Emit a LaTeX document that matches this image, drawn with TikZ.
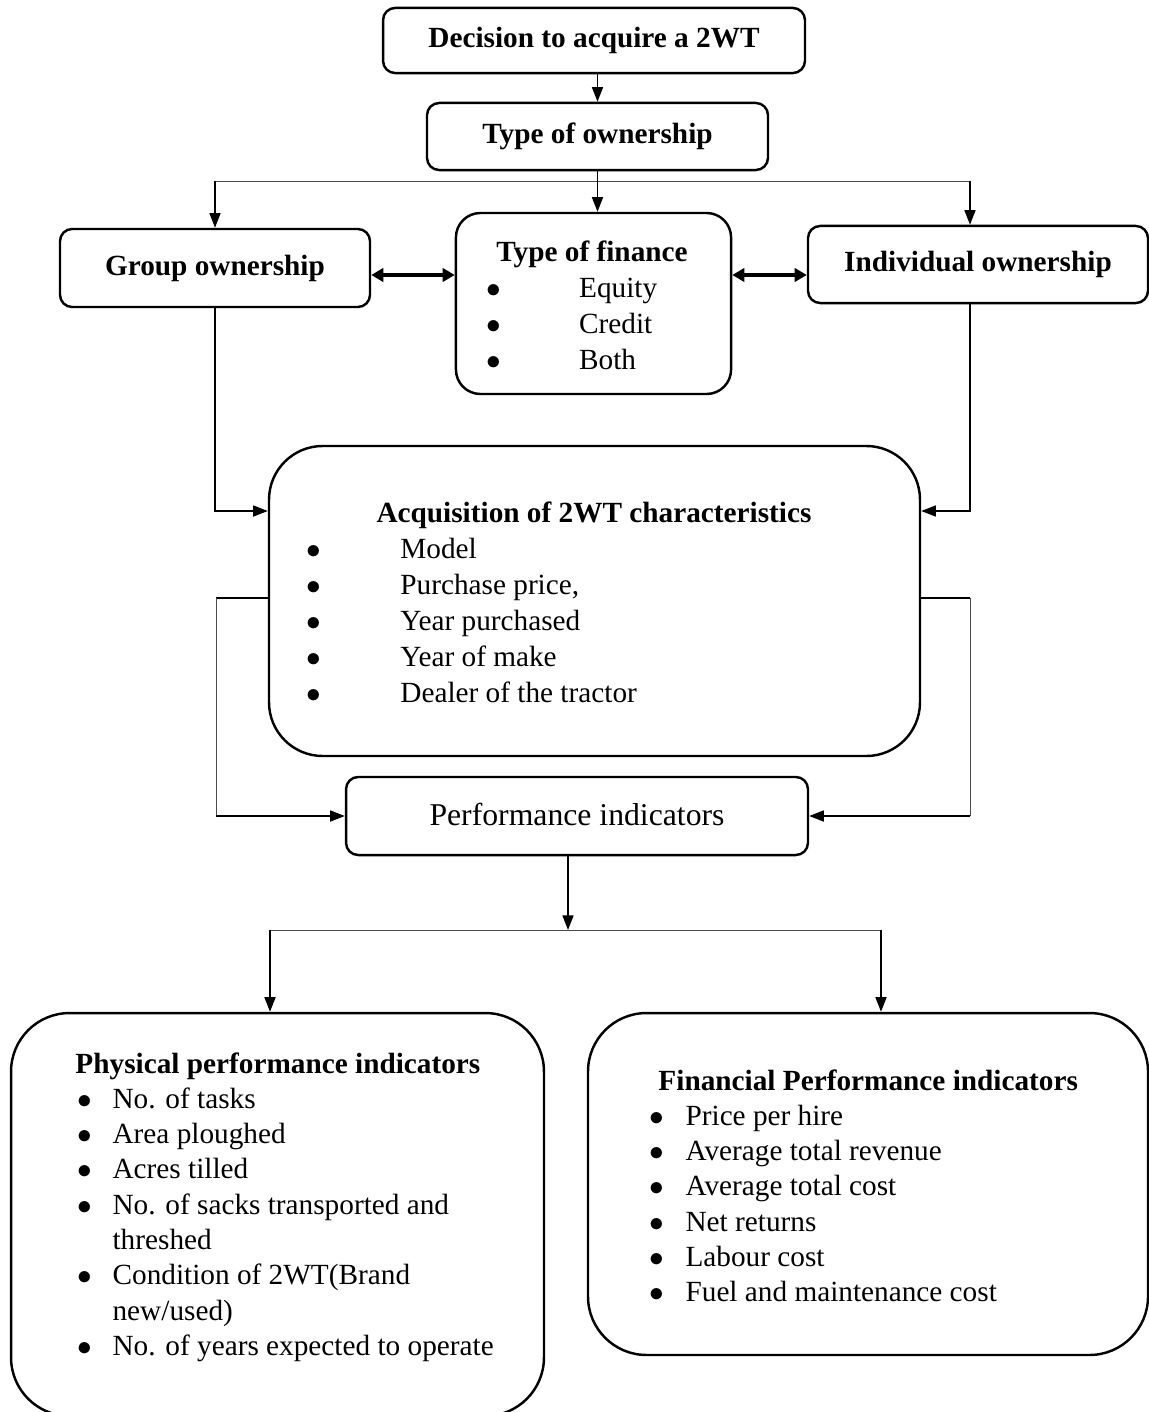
\documentclass[tikz,border=0pt]{standalone}
\usepackage{fontspec}
\setmainfont{Liberation Serif}
\usetikzlibrary{arrows.meta, positioning, calc}

\begin{document}
\begin{tikzpicture}[
    x=0.41pt, y=-0.41pt,
    font=\fontsize{12}{14.5}\selectfont,
    box/.style={
        rectangle, draw=black, line width=1pt,
        rounded corners=5pt, fill=white,
        align=center, inner sep=0pt
    },
    bigbox/.style={box, rounded corners=24pt},
    heading/.style={font=\fontsize{12}{14.5}\selectfont\bfseries, inner sep=0pt},
    itemlist/.style={inner sep=0pt, anchor=base west},
    flow/.style={draw=black, line width=0.7pt, -{Triangle[length=6pt,width=4.5pt]}},
    twoway/.style={draw=black, line width=1.3pt,
        {Triangle[length=5pt,width=5.5pt]}-{Triangle[length=5pt,width=5.5pt]}},
    link/.style={draw=black, line width=0.9pt},
    feed/.style={draw=black!70, line width=0.4pt}
]
\path[use as bounding box] (0,0) rectangle (1149,1412);
\clip (0,0) rectangle (1149,1412);

% ---------------------------------------------------------------------
% 1. TOP: DECISION AND OWNERSHIP
% ---------------------------------------------------------------------
\node[box, minimum width=173pt, minimum height=26.7pt, font=\fontsize{12}{14.5}\selectfont\bfseries] (decision) at (594,40.5) {Decision to acquire a 2WT};
\node[box, minimum width=139.8pt, minimum height=27.5pt, font=\fontsize{12}{14.5}\selectfont\bfseries] (own) at (597.5,136.5) {Type of ownership};

\draw[flow] (decision.south -| own.north) -- (own.north);

% ---------------------------------------------------------------------
% 2. OWNERSHIP TYPES AND FINANCE
% ---------------------------------------------------------------------
\node[box, minimum width=127.1pt, minimum height=32pt, font=\fontsize{12}{14.5}\selectfont\bfseries] (group) at (215,268) {Group ownership};
\node[box, minimum width=139.4pt, minimum height=31.6pt, font=\fontsize{12}{14.5}\selectfont\bfseries] (indiv) at (978,264.5) {Individual ownership};
\node[box, rounded corners=10pt, minimum width=112.8pt, minimum height=74.2pt] (finance) at (593.5,303.5) {};

\node[heading, anchor=base] (financetitle) at (592,262) {Type of finance};
\node[itemlist, font=\fontsize{12}{14.8}\selectfont] (financelist) at (486,297) {\begin{tabular}[t]{@{}p{38pt}@{}l@{}}
$\bullet$ & Equity\\
$\bullet$ & Credit\\
$\bullet$ & Both
\end{tabular}};

\coordinate (splitL) at (215,181);
\coordinate (splitR) at (970,181);
\draw[feed] (splitL) -- (splitR);
\draw[flow] (own.south) -- (own.south |- finance.north);
\draw[flow] (splitL) -- (splitL |- group.north);
\draw[flow] (splitR) -- (splitR |- indiv.north);

\coordinate (dbl) at (0,275);
\draw[twoway] (group.east |- dbl) -- (finance.west |- dbl);
\draw[twoway] (finance.east |- dbl) -- (indiv.west |- dbl);

% ---------------------------------------------------------------------
% 3. MIDDLE: ACQUISITION CHARACTERISTICS
% ---------------------------------------------------------------------
\node[box, rounded corners=22pt, minimum width=266.9pt, minimum height=127.1pt] (acq) at (594.5,601) {};

\node[heading, anchor=base] (acqtitle) at (594,522) {Acquisition of 2WT characteristics};
\node[itemlist, font=\fontsize{12}{14.8}\selectfont] (acqlist) at (306,558) {\begin{tabular}[t]{@{}p{38.5pt}@{}l@{}}
$\bullet$ & Model\\
$\bullet$ & Purchase price,\\
$\bullet$ & Year purchased\\
$\bullet$ & Year of make\\
$\bullet$ & Dealer of the tractor
\end{tabular}};

\coordinate (inL) at (215,511);
\coordinate (inR) at (970,511);
\draw[flow] (group.south) -- (inL) -- (inL -| acq.west);
\draw[flow] (inR |- indiv.south) -- (inR) -- (inR -| acq.east);

% ---------------------------------------------------------------------
% 4. PERFORMANCE INDICATORS
% ---------------------------------------------------------------------
\node[box, minimum width=189.4pt, minimum height=32pt, font=\fontsize{13}{15}\selectfont] (perf) at (577,816) {Performance indicators\rule[-1.5pt]{0pt}{0pt}};

\coordinate (outL) at (216,598);
\coordinate (outR) at (970,598);
\draw[link] (acq.west |- outL) -- (outL);
\draw[feed] (outL) -- (outL |- perf.west);
\draw[flow] (outL |- perf.west) -- (perf.west);
\draw[link] (acq.east |- outR) -- (outR);
\draw[feed] (outR) -- (outR |- perf.east);
\draw[flow] (outR |- perf.east) -- (perf.east);

% ---------------------------------------------------------------------
% 5. BOTTOM: PHYSICAL AND FINANCIAL INDICATORS
% ---------------------------------------------------------------------
\node[bigbox, minimum width=218.5pt, minimum height=165.2pt] (phys) at (277.5,1214.5) {};
\node[bigbox, minimum width=229.6pt, minimum height=140.2pt] (fin) at (868,1184) {};

\node[heading, anchor=base west] (phystitle) at (75,1073) {Physical performance indicators};
\node[itemlist] (physlist) at (77,1108) {\begin{tabular}[t]{@{}p{14.4pt}@{}l@{}}
$\bullet$ & No. of tasks\\
$\bullet$ & Area ploughed\\
$\bullet$ & Acres tilled\\
$\bullet$ & No. of sacks transported and\\
          & threshed\\
$\bullet$ & Condition of 2WT(Brand\\
          & new/used)\\
$\bullet$ & No. of years expected to operate
\end{tabular}};

\node[heading, anchor=base west] (fintitle) at (658,1090) {Financial Performance indicators};
\node[itemlist] (finlist) at (649,1125) {\begin{tabular}[t]{@{}p{14.8pt}@{}l@{}}
$\bullet$ & Price per hire\\
$\bullet$ & Average total revenue\\
$\bullet$ & Average total cost\\
$\bullet$ & Net returns\\
$\bullet$ & Labour cost\\
$\bullet$ & Fuel and maintenance cost
\end{tabular}};

\coordinate (split2) at (568,930);
\coordinate (split2L) at (270,930);
\coordinate (split2R) at (881,930);
\draw[flow] (perf.south -| split2) -- (split2);
\draw[feed] (split2L) -- (split2R);
\draw[flow] (split2L) -- (split2L |- phys.north);
\draw[flow] (split2R) -- (split2R |- fin.north);

\end{tikzpicture}
\end{document}
